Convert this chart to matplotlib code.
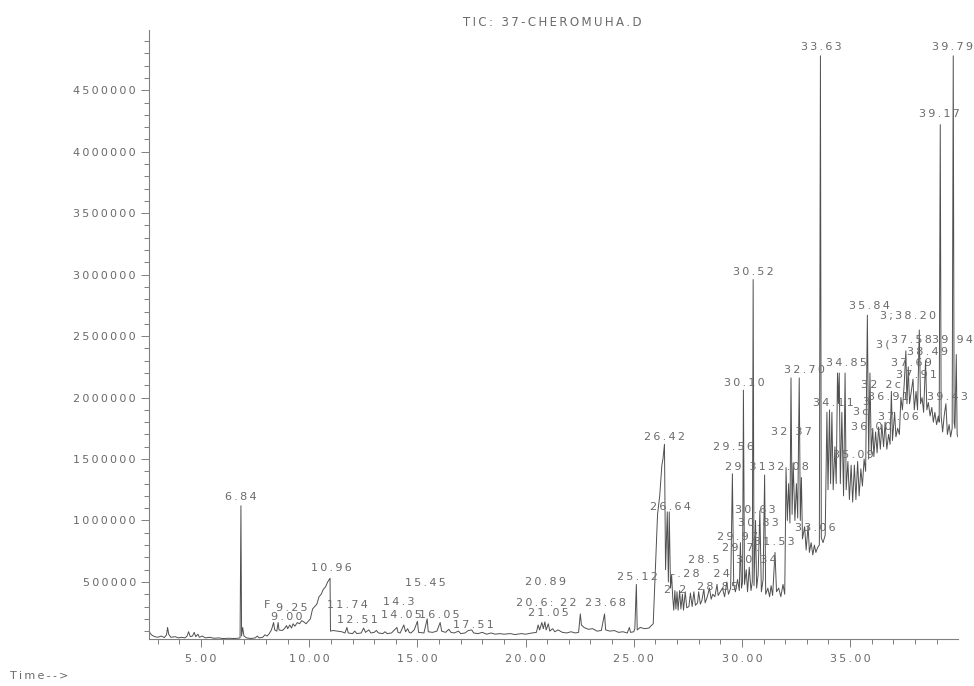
import numpy as np
import matplotlib
matplotlib.use("Agg")
import matplotlib.pyplot as plt
from matplotlib.ticker import MultipleLocator, FuncFormatter

# TIC trace, (retention time [min], abundance [x1000 counts])
trace_pts = [
    # 2.5 - 8.8 min
    (2.59, 130), (2.62, 90), (2.7, 70), (2.85, 55), (3.0, 50), (3.15, 60), (3.3, 48), (3.4, 70),
    (3.45, 130), (3.5, 75), (3.6, 50), (3.8, 55), (3.95, 45), (4.1, 50), (4.25, 45), (4.35, 60),
    (4.42, 95), (4.5, 55), (4.6, 60), (4.68, 90), (4.75, 55), (4.85, 75), (4.92, 50), (5.05, 60),
    (5.2, 45), (5.4, 50), (5.6, 42), (5.8, 45), (6.0, 40), (6.3, 42), (6.5, 40), (6.7, 42),
    (6.8, 45), (6.84, 1120), (6.87, 60), (6.92, 130), (6.98, 60), (7.1, 45), (7.3, 40), (7.5, 45),
    (7.6, 60), (7.68, 45), (7.85, 50), (7.95, 70), (8.05, 60), (8.15, 80), (8.25, 110), (8.35, 170),
    (8.4, 110), (8.5, 100), (8.56, 170), (8.6, 110), (8.75, 105),
    # 8.8 - 11.3 min
    (8.85, 120), (8.95, 145), (9.0, 120), (9.1, 150), (9.18, 125), (9.25, 160), (9.33, 140),
    (9.45, 170), (9.55, 160), (9.65, 185), (9.75, 175), (9.85, 160), (9.9, 170), (10.05, 200),
    (10.15, 280), (10.25, 300), (10.35, 320), (10.45, 380), (10.55, 400), (10.65, 440),
    (10.75, 460), (10.85, 500), (10.96, 530), (10.98, 100), (11.1, 105), (11.3, 100),
    # 11.3 - 20.5 min
    (11.5, 95), (11.65, 85), (11.74, 130), (11.8, 85), (12.0, 80), (12.1, 100), (12.2, 80),
    (12.4, 85), (12.51, 125), (12.6, 90), (12.75, 110), (12.85, 85), (13.0, 90), (13.1, 105),
    (13.2, 85), (13.4, 80), (13.5, 95), (13.6, 80), (13.8, 85), (14.05, 130), (14.1, 90),
    (14.2, 85), (14.37, 150), (14.45, 95), (14.55, 120), (14.62, 90), (14.7, 85), (14.85, 110),
    (15.0, 180), (15.05, 90), (15.3, 85), (15.45, 200), (15.5, 95), (15.7, 90), (15.9, 100),
    (16.05, 170), (16.12, 100), (16.3, 90), (16.45, 115), (16.55, 90), (16.7, 85), (16.9, 100),
    (17.0, 80), (17.2, 85), (17.35, 105), (17.51, 110), (17.6, 85), (17.8, 80), (18.0, 90),
    (18.2, 75), (18.4, 85), (18.6, 75), (18.8, 80), (19.0, 75), (19.3, 80), (19.5, 72),
    (19.8, 80), (20.0, 75), (20.3, 85), (20.5, 90),
    # 20.5 - 26 min
    (20.58, 150), (20.65, 110), (20.75, 170), (20.82, 120), (20.89, 175), (20.95, 110),
    (21.05, 160), (21.12, 100), (21.25, 120), (21.35, 95), (21.5, 110), (21.7, 90), (21.9, 85),
    (22.1, 95), (22.3, 85), (22.45, 90), (22.53, 240), (22.58, 150), (22.7, 130), (22.9, 115),
    (23.1, 120), (23.3, 100), (23.5, 105), (23.65, 240), (23.7, 110), (23.9, 100), (24.1, 105),
    (24.3, 90), (24.5, 95), (24.7, 85), (24.8, 130), (24.85, 90), (25.0, 95), (25.05, 120),
    (25.12, 480), (25.16, 110), (25.3, 130), (25.5, 120), (25.7, 125), (25.9, 160),
    # 26 - 29 min
    (26.1, 1050), (26.2, 1200), (26.3, 1450), (26.35, 1500), (26.42, 1620), (26.47, 600),
    (26.55, 1070), (26.6, 500), (26.64, 1070), (26.7, 450), (26.75, 560), (26.8, 380),
    (26.85, 270), (26.9, 430), (26.95, 280), (27.0, 420), (27.05, 270), (27.12, 430),
    (27.18, 280), (27.25, 400), (27.3, 270), (27.38, 420), (27.45, 290), (27.55, 300),
    (27.62, 410), (27.7, 300), (27.78, 420), (27.85, 310), (27.95, 330), (28.0, 420),
    (28.08, 320), (28.15, 350), (28.24, 440), (28.3, 330), (28.4, 380), (28.5, 450),
    (28.58, 360), (28.65, 400), (28.75, 380), (28.85, 480), (28.9, 390), (29.0, 420),
    # 29 - 31.7 min
    (29.1, 450), (29.2, 380), (29.3, 500), (29.38, 400), (29.48, 450), (29.56, 1380),
    (29.62, 480), (29.7, 420), (29.8, 520), (29.88, 430), (29.93, 820), (29.98, 450),
    (30.03, 500), (30.07, 2060), (30.12, 480), (30.2, 600), (30.26, 420), (30.34, 620),
    (30.42, 430), (30.48, 500), (30.52, 2960), (30.56, 470), (30.63, 1000), (30.68, 450),
    (30.75, 560), (30.83, 1080), (30.9, 420), (30.98, 520), (31.05, 1370), (31.1, 400),
    (31.2, 450), (31.28, 380), (31.35, 470), (31.42, 390), (31.53, 740), (31.6, 420), (31.7, 450),
    # 31.7 - 33.9 min
    (31.8, 380), (31.9, 480), (31.98, 400), (32.04, 1430), (32.1, 1000), (32.16, 1300),
    (32.22, 980), (32.27, 2160), (32.32, 1050), (32.37, 1470), (32.45, 1000), (32.52, 1300),
    (32.58, 1020), (32.65, 2160), (32.7, 1000), (32.75, 1350), (32.8, 850), (32.9, 950),
    (32.97, 760), (33.06, 960), (33.12, 740), (33.2, 820), (33.28, 720), (33.35, 800),
    (33.42, 740), (33.5, 780), (33.58, 800), (33.63, 4780), (33.67, 860), (33.75, 820),
    (33.85, 880),
    # 33.9 - 35.75 min
    (33.93, 1880), (33.98, 1250), (34.05, 1900), (34.1, 1300), (34.16, 1880), (34.22, 1250),
    (34.3, 1600), (34.36, 1300), (34.42, 2200), (34.46, 1950), (34.5, 2200), (34.55, 1300),
    (34.62, 1880), (34.7, 1200), (34.77, 2200), (34.82, 1250), (34.9, 1480), (34.97, 1170),
    (35.05, 1450), (35.12, 1150), (35.2, 1450), (35.27, 1170), (35.35, 1480), (35.42, 1200),
    (35.5, 1420), (35.57, 1280), (35.65, 1500), (35.72, 1400),
    # 35.75 - 37.3 min
    (35.8, 2670), (35.86, 1500), (35.92, 2200), (35.98, 1550), (36.05, 1750), (36.1, 1520),
    (36.18, 1720), (36.25, 1550), (36.32, 1760), (36.4, 1580), (36.47, 1780), (36.55, 1600),
    (36.62, 1800), (36.7, 1580), (36.78, 1700), (36.85, 1620), (36.91, 2050), (36.96, 1650),
    (37.06, 1880), (37.12, 1680), (37.2, 1750), (37.28, 1700),
    # 37.3 - 40 min
    (37.35, 2000), (37.42, 1900), (37.5, 2100), (37.58, 2380), (37.63, 1950), (37.69, 2250),
    (37.75, 1950), (37.83, 2050), (37.91, 2150), (37.97, 1900), (38.05, 2050), (38.12, 1900),
    (38.2, 2550), (38.26, 1950), (38.33, 2000), (38.4, 1880), (38.49, 2300), (38.55, 1900),
    (38.62, 1960), (38.7, 1850), (38.78, 1920), (38.85, 1800), (38.92, 1880), (39.0, 1780),
    (39.08, 1850), (39.12, 1800), (39.17, 4220), (39.21, 1850), (39.28, 1720), (39.35, 1850),
    (39.43, 1950), (39.5, 1700), (39.58, 1780), (39.65, 1680), (39.72, 1750), (39.77, 4780),
    (39.81, 1800), (39.85, 1750), (39.91, 2350), (39.95, 1700), (39.99, 1680),
]

# peak labels as printed: (text, time at label centre, abundance x1000 at label centre)
peak_labels = [
    ("6.84", 6.84, 1190), ("F", 8.05, 313), ("9.25", 9.21, 289), ("9.00", 8.98, 215),
    ("10.96", 11.02, 615), ("11.74", 11.76, 313), ("12.51", 12.22, 190), ("14.3", 14.12, 340),
    ("14.05", 14.28, 232), ("15.45", 15.36, 491), ("16.05", 16.03, 232), ("17.51", 17.57, 150),
    ("20.89", 20.9, 500), ("20.6:", 20.43, 330), ("22", 21.95, 330), ("21.05", 21.05, 248),
    ("23.68", 23.68, 330), ("25.12", 25.17, 541), ("26.42", 26.42, 1680), ("26.64", 26.7, 1112),
    ("-.28  24", 28.09, 566), ("2 2", 26.92, 436), ("28.85", 28.87, 460), ("28.5", 28.24, 680),
    ("30.34", 30.65, 680), ("29.97", 29.8, 866), ("29 7.", 29.95, 780), ("31.53", 31.52, 826),
    ("30.83", 30.78, 981), ("30.63", 30.64, 1087), ("33.06", 33.41, 940), ("29 31", 30.18, 1438),
    ("32.08", 32.14, 1438), ("29.56", 29.62, 1600), ("32.37", 32.27, 1720), ("30.10", 30.09, 2120),
    ("30.52", 30.51, 3023), ("32.70", 32.87, 2225), ("34.85", 34.82, 2283), ("34.11", 34.22, 1958),
    ("35.09", 35.14, 1535), ("35.84", 35.89, 2741), ("3;38.20", 37.66, 2660), ("3(", 36.53, 2430),
    ("37.58", 37.84, 2471), ("39.94", 39.72, 2471), ("38.49", 38.56, 2373), ("37.69", 37.84, 2283),
    ("37.91", 38.07, 2185), ("32 2c", 36.44, 2103), ("36.91", 36.76, 2005), ("39.43", 39.5, 2005),
    ("3", 35.74, 1966), ("3c", 35.51, 1885), ("37.06", 37.24, 1844), ("36.00", 35.98, 1763),
    ("33.63", 33.67, 4850), ("39.79", 39.72, 4850), ("39.17", 39.13, 4305),
]

title_text = "TIC: 37-CHEROMUHA.D"
x_label_text = "Time-->"

grey = "#6a6a6a"


def spaced(s):
    # the instrument print-out uses letter-spaced text
    return "\u2009".join(s)


rt = np.array([p[0] for p in trace_pts])
ab = np.array([p[1] for p in trace_pts]) * 1000

fig = plt.figure(figsize=(9.74, 6.86), dpi=100)
ax = fig.add_axes([149 / 974, 47 / 686, 809 / 974, 609 / 686])

ax.plot(rt, ab, color="#505050", lw=0.7)

for txt, t, y in peak_labels:
    ax.text(t, y * 1000, spaced(txt), ha="center", va="center", fontsize=8,
            color=grey, clip_on=False)

ax.set_xlim(2.59, 39.99)
ax.set_ylim(36000, 4990000)

for side in ["top", "right"]:
    ax.spines[side].set_visible(False)
for side in ["left", "bottom"]:
    ax.spines[side].set_color("#808080")
    ax.spines[side].set_linewidth(0.8)

ax.xaxis.set_major_locator(MultipleLocator(5))
ax.xaxis.set_minor_locator(MultipleLocator(1))
ax.yaxis.set_major_locator(MultipleLocator(500000))
ax.yaxis.set_minor_locator(MultipleLocator(100000))
ax.xaxis.set_major_formatter(FuncFormatter(lambda v, p: spaced("%.2f" % v)))
ax.yaxis.set_major_formatter(FuncFormatter(lambda v, p: spaced("%d" % v)))
ax.tick_params(which="major", length=6, width=0.7, color="#808080", labelcolor=grey,
               labelsize=8)
ax.tick_params(which="minor", length=3.5, width=0.7, color="#808080")
ax.tick_params(axis="x", pad=5)

fig.text(552 / 974, 1 - 23 / 686, spaced(title_text), ha="center", va="center",
         fontsize=8.5, color=grey)
fig.text(10 / 974, 1 - 676 / 686, spaced(x_label_text), ha="left", va="center",
         fontsize=8, color=grey)

fig.savefig("out.png", dpi=100)
